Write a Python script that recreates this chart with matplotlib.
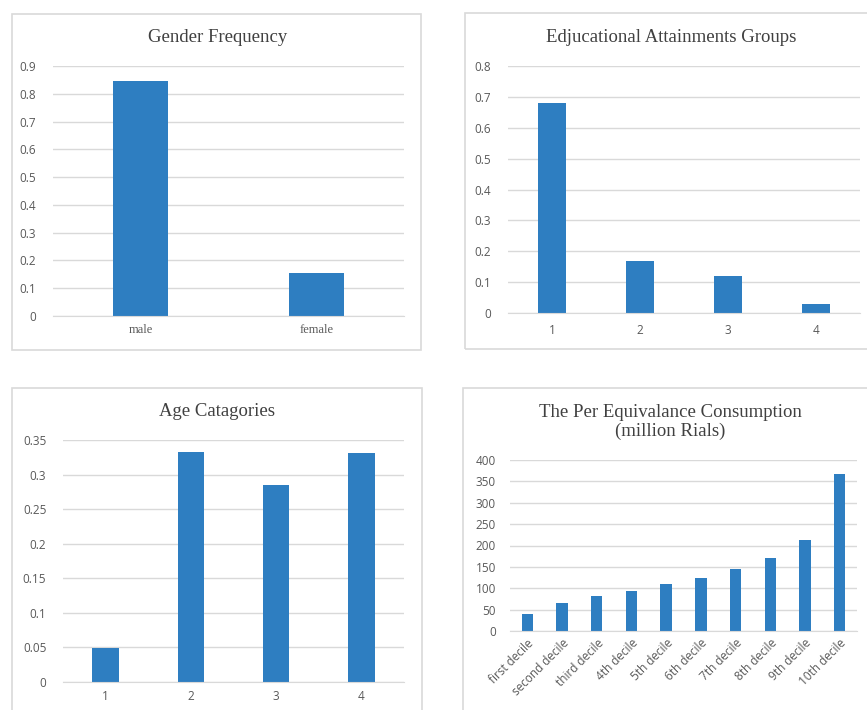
import matplotlib
matplotlib.use("Agg")
import matplotlib.pyplot as plt
from matplotlib.patches import Rectangle

W, H = 867, 710

gender_labels = ["male", "female"]
gender_values = [0.845, 0.155]

edu_labels = ["1", "2", "3", "4"]
edu_values = [0.68, 0.168, 0.12, 0.03]

age_labels = ["1", "2", "3", "4"]
age_values = [0.049, 0.333, 0.285, 0.331]

decile_labels = ["first decile", "second decile", "third decile", "4th decile",
                 "5th decile", "6th decile", "7th decile", "8th decile",
                 "9th decile", "10th decile"]
decile_values = [40, 66, 81, 94, 110, 125, 145, 171, 214, 367]

BAR = "#2E7EC1"
GRID = "#D9D9D9"
TICK = "#595959"
TITLE = "#404040"
SERIF = "Liberation Serif"
SANS = "Open Sans"


def px_axes(fig, x0, y0, x1, y1):
    return fig.add_axes([x0 / W, 1 - y1 / H, (x1 - x0) / W, (y1 - y0) / H])


def frame(fig, x0, y0, x1, y1):
    fig.add_artist(Rectangle((x0 / W, 1 - y1 / H), (x1 - x0) / W, (y1 - y0) / H,
                             transform=fig.transFigure, fill=False,
                             edgecolor="#D9D9D9", linewidth=1.2))


def style(ax, ylim, step, fmt):
    ax.set_ylim(0, ylim)
    ticks = [i * step for i in range(int(round(ylim / step)) + 1)]
    ax.set_yticks(ticks)
    ax.set_yticklabels([fmt(t) for t in ticks], fontfamily=SANS, fontsize=8.5, color=TICK)
    ax.yaxis.grid(True, color=GRID, linewidth=1)
    ax.set_axisbelow(True)
    for s in ax.spines.values():
        s.set_visible(False)
    ax.spines["bottom"].set_visible(True)
    ax.spines["bottom"].set_color(GRID)
    ax.tick_params(axis="both", length=0)
    ax.tick_params(axis="y", pad=12)


fig = plt.figure(figsize=(W / 100, H / 100), dpi=100)

# top-left: gender
frame(fig, 12, 14, 421, 350)
ax1 = px_axes(fig, 53, 66, 404, 316)
ax1.bar(range(len(gender_values)), gender_values, width=0.315, color=BAR)
ax1.set_xlim(-0.5, len(gender_values) - 0.5)
style(ax1, 0.9, 0.1, lambda t: "0" if t == 0 else f"{t:.1f}")
ax1.set_xticks(range(len(gender_labels)))
ax1.set_xticklabels(gender_labels, fontfamily=SERIF, fontsize=9, color=TICK)
ax1.tick_params(axis="x", pad=6)
fig.text(218 / W, 1 - 38 / H, "Gender Frequency", ha="center", va="center",
         fontfamily=SERIF, fontsize=13.5, color=TITLE)

# top-right: education
frame(fig, 465, 13, 880, 349)
ax2 = px_axes(fig, 508, 66, 860, 313)
ax2.bar(range(1, len(edu_values) + 1), edu_values, width=0.315, color=BAR)
ax2.set_xlim(0.5, len(edu_values) + 0.5)
style(ax2, 0.8, 0.1, lambda t: "0" if t == 0 else f"{t:.1f}")
ax2.set_xticks(range(1, len(edu_labels) + 1))
ax2.set_xticklabels(edu_labels, fontfamily=SANS, fontsize=8.5, color=TICK)
ax2.tick_params(axis="x", pad=8)
fig.text(671 / W, 1 - 38 / H, "Edjucational Attainments Groups", ha="center", va="center",
         fontfamily=SERIF, fontsize=13.5, color=TITLE)

# bottom-left: age
frame(fig, 12, 388, 422, 730)
ax3 = px_axes(fig, 63, 440, 404, 682)
ax3.bar(range(1, len(age_values) + 1), age_values, width=0.31, color=BAR)
ax3.set_xlim(0.5, len(age_values) + 0.5)
style(ax3, 0.35, 0.05, lambda t: "0" if t == 0 else f"{t:g}")
ax3.set_xticks(range(1, len(age_labels) + 1))
ax3.set_xticklabels(age_labels, fontfamily=SANS, fontsize=8.5, color=TICK)
ax3.tick_params(axis="x", pad=6)
fig.text(217 / W, 1 - 411 / H, "Age Catagories", ha="center", va="center",
         fontfamily=SERIF, fontsize=13.5, color=TITLE)

# bottom-right: consumption deciles
frame(fig, 463, 388, 880, 730)
ax4 = px_axes(fig, 510, 460, 857, 631)
ax4.bar(range(len(decile_values)), decile_values, width=0.33, color=BAR)
ax4.set_xlim(-0.5, len(decile_values) - 0.5)
style(ax4, 400, 50, lambda t: f"{t:g}")
ax4.tick_params(axis="y", pad=10)
ax4.set_xticks(range(len(decile_labels)))
ax4.set_xticklabels(decile_labels, fontfamily=SANS, fontsize=8.5, color=TICK,
                    rotation=45, ha="right", rotation_mode="anchor")
ax4.tick_params(axis="x", pad=4)
fig.text(670 / W, 1 - 422 / H, "The Per Equivalance Consumption\n(million Rials)",
         ha="center", va="center", fontfamily=SERIF, fontsize=13.5, color=TITLE,
         linespacing=1.1)

fig.savefig("out.png", dpi=100, facecolor="white")
